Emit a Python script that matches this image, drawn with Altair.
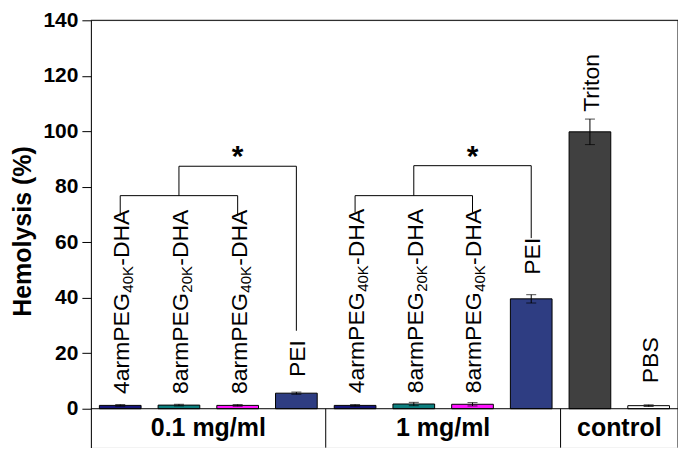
import altair as alt
import pandas as pd

# ---- data ----
ids = ["4arm40K_01", "8arm20K_01", "8arm40K_01", "PEI_01",
       "4arm40K_1", "8arm20K_1", "8arm40K_1", "PEI_1",
       "Triton", "PBS"]
groups = ["0.1 mg/ml"] * 4 + ["1 mg/ml"] * 4 + ["control"] * 2
values = [1.2, 1.3, 1.2, 5.6, 1.2, 1.7, 1.6, 39.6, 99.8, 1.1]
errors = [0.3, 0.3, 0.3, 0.4, 0.3, 0.6, 0.6, 1.5, 4.6, 0.3]
label_main = ["4armPEG", "8armPEG", "8armPEG", "PEI",
              "4armPEG", "8armPEG", "8armPEG", "PEI", "Triton", "PBS"]
label_sub = ["40K", "20K", "40K", "", "40K", "20K", "40K", "", "", ""]
label_suffix = ["-DHA", "-DHA", "-DHA", "", "-DHA", "-DHA", "-DHA", "", "", ""]
label_base = [5.3, 5.3, 5.3, 11.4, 5.6, 5.6, 5.6, 48.3, 107.0, 9.2]
palette = ["#16167a", "#0d7f7f", "#ff14ff", "#2e3d82",
           "#16167a", "#0d7f7f", "#ff14ff", "#2e3d82", "#404040", "#ffffff"]

# significance brackets (one per concentration group)
br_first = [0, 4]           # index of first bar in group
br_lo = [76.8, 76.8]
br_hi = [87.4, 87.6]
br_leg = [69.5, 70.7]
br_pei_leg = [28.1, 61.5]

ticks = [0, 20, 40, 60, 80, 100, 120, 140]

df = pd.DataFrame({
    "id": ids, "idx": list(range(len(ids))), "group": groups,
    "value": values, "err": errors,
    "main": label_main, "sub": label_sub, "suffix": label_suffix,
    "lab": label_base,
})

hrows, vrows, stars = [], [], []
for f, lo, hi, leg, pleg in zip(br_first, br_lo, br_hi, br_leg, br_pei_leg):
    hrows += [{"xa": f, "xb": f + 2, "y": lo}, {"xa": f + 1, "xb": f + 3, "y": hi}]
    vrows += [{"x": f, "ya": leg, "yb": lo}, {"x": f + 2, "ya": leg, "yb": lo},
              {"x": f + 1, "ya": lo, "yb": hi}, {"x": f + 3, "ya": pleg, "yb": hi}]
    stars.append({"x": f + 2, "y": hi, "t": "*"})
hdf, vdf, sdf = pd.DataFrame(hrows), pd.DataFrame(vrows), pd.DataFrame(stars)

W, H = 588, 428
FONT = "Liberation Sans"
xs = alt.Scale(domain=[-0.5, len(ids) - 0.5], nice=False, zero=False)
ys = alt.Scale(domain=[-14.04, 140], nice=False, zero=False)
cs = alt.Scale(domain=ids, range=palette)

base = alt.Chart(df)

bars = base.transform_calculate(
    xa="datum.idx - 0.355", xb="datum.idx + 0.355"
).mark_bar(stroke="black", strokeWidth=1).encode(
    x=alt.X("xa:Q", scale=xs, axis=None),
    x2="xb:Q",
    y=alt.Y("value:Q", scale=ys, axis=alt.Axis(
        values=ticks, grid=False, tickSize=9, labelPadding=4,
        labelFont=FONT, labelFontWeight="bold", labelFontSize=21,
        labelColor="black", tickColor="black", domainColor="black",
        title="Hemolysis (%)", titleFont=FONT, titleFontSize=25,
        titleFontWeight="bold", titleColor="black", titleAngle=270,
        titleX=-60, titleY=211, titleAlign="center", titleBaseline="alphabetic")),
    y2=alt.datum(0),
    color=alt.Color("id:N", scale=cs, legend=None),
)

err = base.transform_calculate(
    lo="datum.value - datum.err", hi="datum.value + datum.err"
)
err_rule = err.mark_rule(color="black", strokeWidth=1).encode(
    x=alt.X("idx:Q", scale=xs), y=alt.Y("lo:Q", scale=ys), y2="hi:Q")
cap_lo = err.mark_tick(color="black", orient="horizontal", size=10, thickness=1).encode(
    x=alt.X("idx:Q", scale=xs), y=alt.Y("lo:Q", scale=ys))
cap_hi = err.mark_tick(color="black", orient="horizontal", size=10, thickness=1).encode(
    x=alt.X("idx:Q", scale=xs), y=alt.Y("hi:Q", scale=ys))

txt_main = base.mark_text(angle=270, align="left", baseline="alphabetic",
                          dy=9, fontSize=23, font=FONT, color="black").encode(
    x=alt.X("idx:Q", scale=xs), y=alt.Y("lab:Q", scale=ys), text="main:N")
txt_sub = base.transform_filter("datum.sub != ''").mark_text(
    angle=270, align="left", baseline="alphabetic", dx=101.5, dy=13,
    fontSize=15, font=FONT, color="black").encode(
    x=alt.X("idx:Q", scale=xs), y=alt.Y("lab:Q", scale=ys), text="sub:N")
txt_suf = base.transform_filter("datum.suffix != ''").mark_text(
    angle=270, align="left", baseline="alphabetic", dx=128.5, dy=9,
    fontSize=23, font=FONT, color="black").encode(
    x=alt.X("idx:Q", scale=xs), y=alt.Y("lab:Q", scale=ys), text="suffix:N")

h_br = alt.Chart(hdf).mark_rule(color="black", strokeWidth=1).encode(
    x=alt.X("xa:Q", scale=xs), x2="xb:Q", y=alt.Y("y:Q", scale=ys))
v_br = alt.Chart(vdf).mark_rule(color="black", strokeWidth=1).encode(
    x=alt.X("x:Q", scale=xs), y=alt.Y("ya:Q", scale=ys), y2="yb:Q")
star = alt.Chart(sdf).mark_text(fontSize=30, fontWeight="bold", font=FONT,
                                baseline="alphabetic", dy=0, color="black").encode(
    x=alt.X("x:Q", scale=xs), y=alt.Y("y:Q", scale=ys), text="t:N")

one = alt.Chart(pd.DataFrame({"v": [0]}))
zero_line = one.mark_rule(color="black", strokeWidth=1).encode(y=alt.Y("v:Q", scale=ys))
top_line = one.mark_rule(color="black", strokeWidth=1).encode(y=alt.value(0))
right_line = one.mark_rule(color="black", strokeWidth=1).encode(
    x=alt.value(W), y=alt.value(0), y2=alt.value(H))

seps = base.transform_aggregate(
    last="max(idx)", groupby=["group"]
).transform_filter("datum.group != 'control'").transform_calculate(
    sx="datum.last + 0.5", v0="0"
).mark_rule(color="black", strokeWidth=1).encode(
    x=alt.X("sx:Q", scale=xs), y=alt.Y("v0:Q", scale=ys), y2=alt.value(H))

glabels = base.transform_aggregate(
    mid="mean(idx)", groupby=["group"]
).mark_text(fontSize=25, fontWeight="bold", font=FONT, baseline="alphabetic",
            color="black").encode(
    x=alt.X("mid:Q", scale=xs), y=alt.value(416), text="group:N")

chart = alt.layer(
    bars, err_rule, cap_lo, cap_hi, txt_main, txt_sub, txt_suf,
    h_br, v_br, star, zero_line, top_line, right_line, seps, glabels
).properties(
    width=W, height=H,
    autosize=alt.AutoSizeParams(type="none"),
    padding={"left": 83, "top": 12, "right": 0, "bottom": 0},
).configure_view(stroke=None).configure(font=FONT)

chart.save("out.html", embed_options={"renderer": "svg", "actions": False})
